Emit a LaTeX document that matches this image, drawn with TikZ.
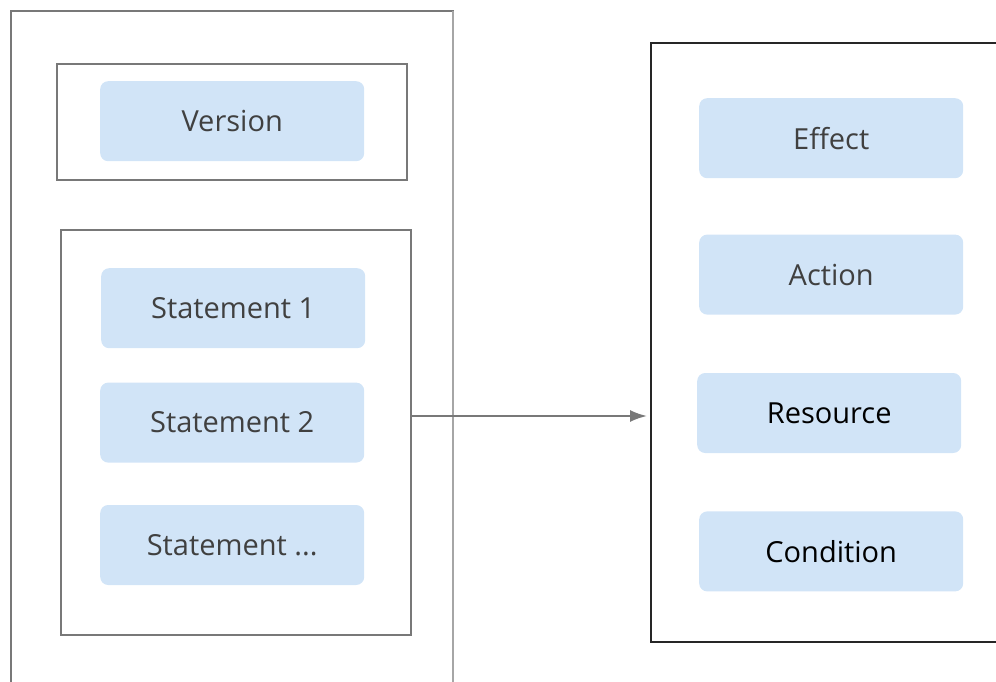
\documentclass[tikz,border=0pt]{standalone}
\usepackage{fontspec}
\setmainfont{Open Sans}
\usetikzlibrary{arrows.meta,positioning}
\definecolor{pillblue}{RGB}{209,228,247}
\definecolor{textgray}{RGB}{64,64,64}
\definecolor{framegray}{RGB}{120,120,120}
\begin{document}
\begin{tikzpicture}[x=1pt,y=-1pt]
\begin{scope}

\tikzstyle{pillnode} = [minimum width=264pt,minimum height=80pt,inner sep=0pt,fill=pillblue,rounded corners=8pt,text=textgray,font=\fontsize{29}{31}\selectfont];
\tikzstyle{framenode} = [inner sep=0pt,outer sep=0pt,draw=framegray,line width=1.5pt];

\useasboundingbox (0,0) rectangle (996,682);
\clip (0,0) rectangle (996,682);

% left side: the policy
\node [framenode,anchor=north west,minimum width=442pt,minimum height=700pt] (policy) at (11,11) {};
\draw [draw=black!35,line width=2pt] (policy.north east) -- (policy.south east);
\node [framenode,anchor=north west,minimum width=350pt,minimum height=116pt] (verbox) at (57,64) {};
\node [framenode,anchor=north west,minimum width=350pt,minimum height=405pt] (stmts) at (61,230) {};

\node [pillnode,anchor=north west] (ver) at (100,81) {Version};
\node [pillnode,anchor=north west] (s1) at (101,268) {Statement 1};
\node [pillnode,anchor=north] (s2) at ([xshift=-1pt,yshift=-34pt]s1.south) {Statement 2};
\node [pillnode,anchor=north] (s3) at ([yshift=-42pt]s2.south) {Statement ...};

% right side: one statement
\node [framenode,draw=black!85,anchor=north west,minimum width=370pt,minimum height=599pt] (rule) at (651,43) {};

\node [pillnode,anchor=north west] (eff) at (699,98) {Effect};
\node [pillnode,anchor=north] (act) at ([yshift=-56pt]eff.south) {Action};
\node [pillnode,anchor=north,text=black] (res) at ([xshift=-2pt,yshift=-58pt]act.south) {Resource};
\node [pillnode,anchor=north,text=black] (cond) at ([xshift=2pt,yshift=-58pt]res.south) {Condition};

\draw [-{Latex[length=17pt,width=12pt]},framegray,line width=2pt,shorten >=4pt] ([yshift=16.5pt]stmts.east) -- ([yshift=16.5pt]stmts.east -| rule.west);

\end{scope}
\end{tikzpicture}
\end{document}
